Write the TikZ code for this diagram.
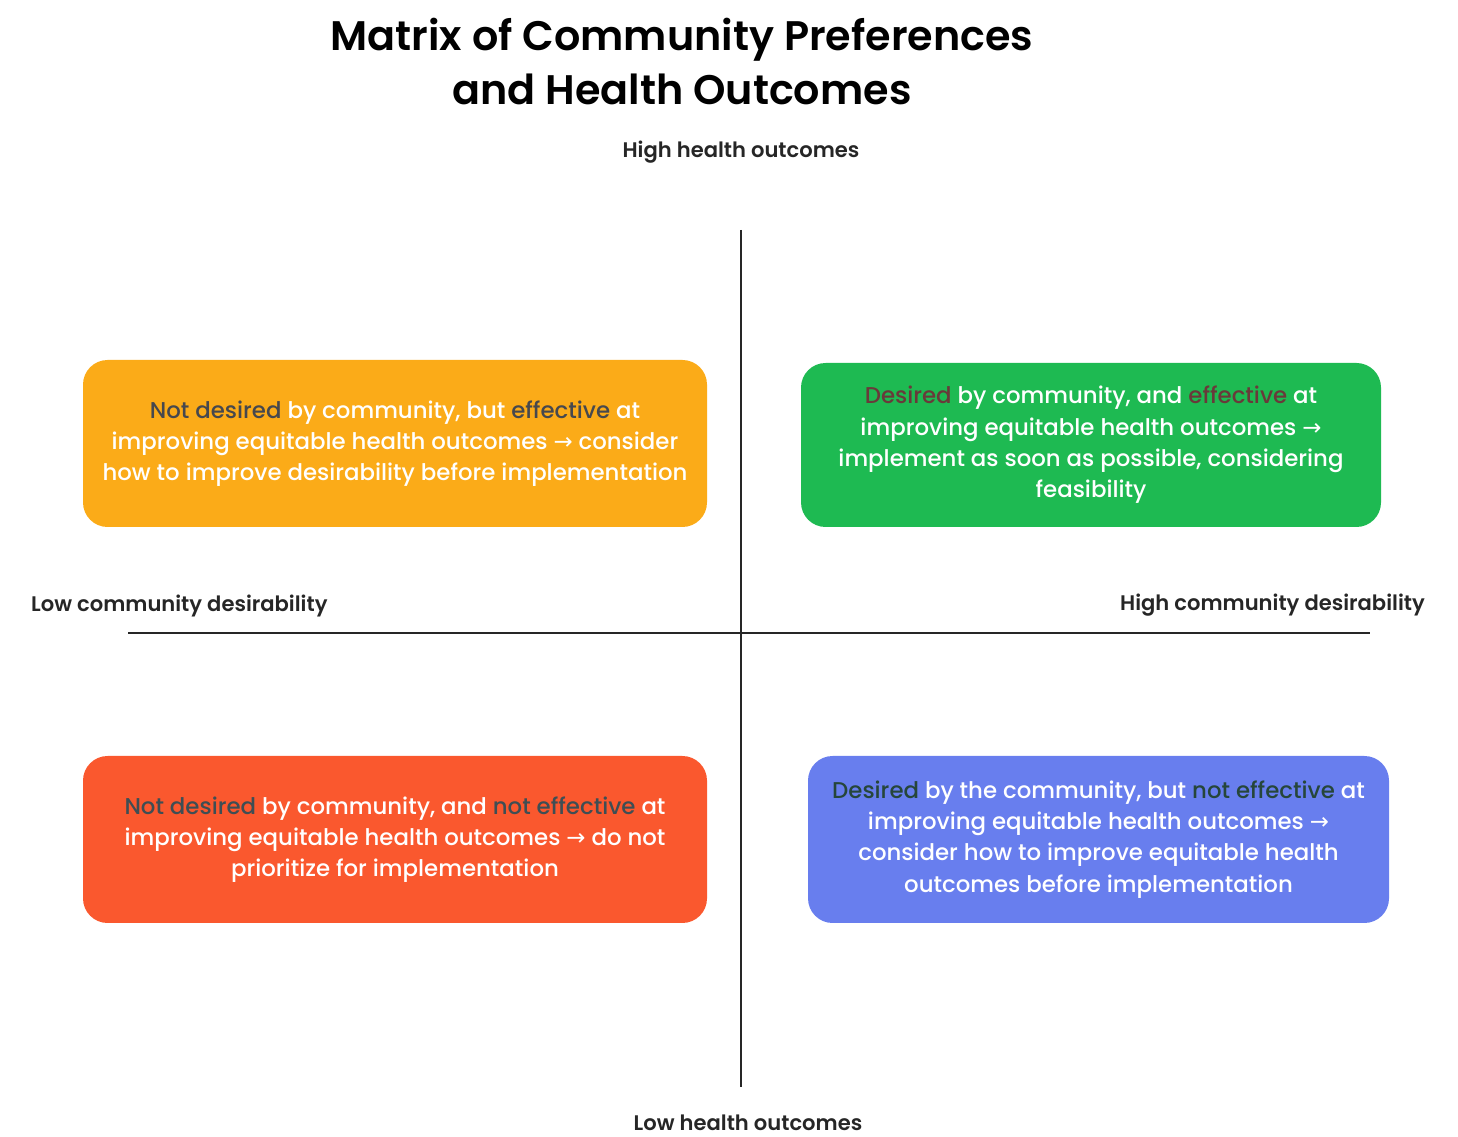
\documentclass[tikz,border=0pt]{standalone}
\usepackage{fontspec}
\setmainfont{Poppins}
\newfontfamily\medfont{Poppins Medium}
\newfontfamily\semifont{Poppins SemiBold}
\newfontfamily\arrowfont{DejaVu Sans}
\usepackage{xcolor}
\usetikzlibrary{positioning, calc}

\definecolor{amberbox}{RGB}{251,171,24}
\definecolor{greenbox}{RGB}{30,186,82}
\definecolor{redbox}{RGB}{250,88,46}
\definecolor{bluebox}{RGB}{104,126,238}
\definecolor{grayword}{RGB}{70,72,78}
\definecolor{brownword}{RGB}{105,58,58}
\definecolor{slateword}{RGB}{62,78,84}
\definecolor{pineword}{RGB}{38,70,58}

\newcommand{\toarrow}{{\arrowfont\char"2192}}

\begin{document}
\begin{tikzpicture}[
    quadbox/.style={draw=none, rectangle, rounded corners=14pt, align=center, text=white,
        font=\medfont\fontsize{13}{17.8}\selectfont, inner sep=0pt},
    axislabel/.style={font=\semifont\fontsize{12}{14}\selectfont, text=black!85},
    axisline/.style={line width=1.3pt, black!85}
]
    \useasboundingbox (0,0) rectangle (29.16,22.72);

    % Title
    \node[font=\semifont\fontsize{23.5}{30.5}\selectfont, align=center] (title) at (13.64, 21.49)
        {Matrix of Community Preferences\\and Health Outcomes};

    % Axes
    \coordinate (ytop) at (14.82, 18.12);
    \coordinate (ybot) at (14.82, 0.98);
    \coordinate (xleft) at (2.56, 10.06);
    \coordinate (xright) at (27.4, 10.06);
    \draw[axisline] (ytop) -- (ybot);
    \draw[axisline] (xleft) -- (xright);

    % Axis labels
    \node[axislabel] (hiout) at (14.82, 19.68) {High health outcomes};
    \node[axislabel] (loout) at (14.96, 0.26) {Low health outcomes};
    \node[axislabel, anchor=west] (lodes) at (0.5, 10.6) {Low community desirability};
    \node[axislabel, anchor=east] (hides) at (28.62, 10.62) {High community desirability};

    % Quadrants
    \node[quadbox, fill=amberbox, minimum width=12.48cm, minimum height=3.34cm] (nq) at (7.9, 13.85)
        {\textcolor{grayword}{Not desired} by community, but \textcolor{grayword}{effective} at\\
         improving equitable health outcomes \toarrow{} consider\\
         how to improve desirability before implementation};
    \node[quadbox, fill=greenbox, minimum width=11.6cm, minimum height=3.28cm] (dq) at (21.82, 13.82)
        {\textcolor{brownword}{Desired} by community, and \textcolor{brownword}{effective} at\\
         improving equitable health outcomes \toarrow\\
         implement as soon as possible, considering\\
         feasibility};
    \node[quadbox, fill=redbox, minimum width=12.48cm, minimum height=3.34cm] (nn) at (7.9, 5.93)
        {\textcolor{slateword}{Not desired} by community, and \textcolor{slateword}{not effective} at\\
         improving equitable health outcomes \toarrow{} do not\\
         prioritize for implementation};
    \node[quadbox, fill=bluebox, minimum width=11.62cm, minimum height=3.34cm] (dn) at (21.97, 5.93)
        {\textcolor{pineword}{Desired} by the community, but \textcolor{pineword}{not effective} at\\
         improving equitable health outcomes \toarrow\\
         consider how to improve equitable health\\
         outcomes before implementation};

\end{tikzpicture}
\end{document}
